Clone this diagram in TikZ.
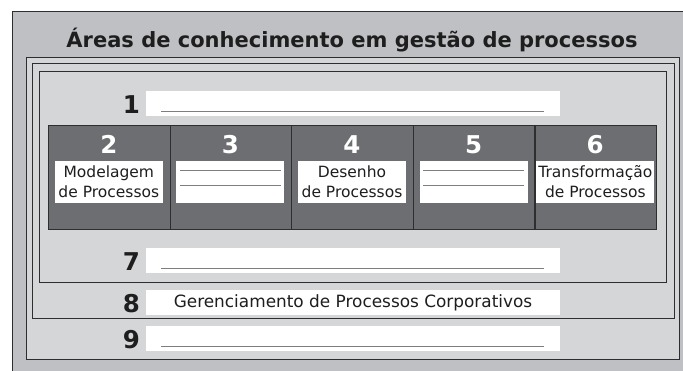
\documentclass[tikz,border=0pt]{standalone}
\usepackage{fontspec}
\setmainfont{DejaVu Sans}
\definecolor{outerbg}{HTML}{BFC0C3}
\definecolor{innerbg}{HTML}{D5D6D8}
\definecolor{panelgray}{HTML}{6D6E71}
\definecolor{frameline}{HTML}{2E2E2E}
\definecolor{uline}{HTML}{7E7E7E}
\definecolor{ink}{HTML}{1E1E1E}
\begin{document}
\begin{tikzpicture}[x=1pt,y=-1pt,
  frame/.style={draw=frameline,line width=1.4pt,inner sep=0pt,anchor=north west},
  rowbox/.style={fill=white,minimum width=414pt,minimum height=25pt,inner sep=0pt,anchor=north west},
  rownum/.style={font=\fontsize{24.5}{24.5}\selectfont\bfseries,text=ink,inner sep=0pt,anchor=base east},
  colbox/.style={draw=frameline,line width=1.2pt,fill=panelgray,minimum width=121.6pt,minimum height=104pt,inner sep=0pt,anchor=north west},
  colnum/.style={font=\fontsize{24.5}{24.5}\selectfont\bfseries,text=white,inner sep=0pt,anchor=base},
  labelbox/.style={fill=white,minimum width=108pt,minimum height=42pt,inner sep=0pt},
  labeltext/.style={font=\fontsize{15.5}{20}\selectfont,text=ink,align=center,inner sep=0pt},
  blank/.style={draw=uline,line width=1.5pt}
]
\useasboundingbox (0,0) rectangle (683,370);
\fill[white] (0,0) rectangle (683,370);

% frames
\node[frame,fill=outerbg,minimum width=680pt,minimum height=380pt] (outer) at (12,11) {};
\node[font=\fontsize{21}{21}\selectfont\bfseries,text=ink,anchor=base,inner sep=0pt] (title) at (352,47) {Áreas de conhecimento em gestão de processos};
\node[frame,fill=innerbg,minimum width=653pt,minimum height=302pt] (fA) at (26,57) {};
\node[frame,minimum width=642pt,minimum height=255pt] (fB) at (32,63) {};
\node[frame,minimum width=627pt,minimum height=211pt] (fC) at (39,71) {};

% row boxes
\node[rowbox] (r1) at (146,91) {};
\node[rownum] (n1) at (140,113) {1};
\draw[blank] ([xshift=15pt,yshift=5pt]r1.south west) -- ([xshift=-16pt,yshift=5pt]r1.south east);

\node[rowbox] (r7) at (146,248) {};
\node[rownum] (n7) at (140,270) {7};
\draw[blank] ([xshift=15pt,yshift=5pt]r7.south west) -- ([xshift=-16pt,yshift=5pt]r7.south east);

\node[rowbox] (r8) at (146,290) {};
\node[rownum] (n8) at (140,312) {8};
\node[font=\fontsize{16.9}{16.9}\selectfont,text=ink,inner sep=0pt] (t8) at (353,303) {Gerenciamento de Processos Corporativos};

\node[rowbox] (r9) at (146,326) {};
\node[rownum] (n9) at (140,348) {9};
\draw[blank] ([xshift=15pt,yshift=5pt]r9.south west) -- ([xshift=-16pt,yshift=5pt]r9.south east);

% columns
\node[colbox] (c2) at (48,125) {};
\node[colbox] (c3) at (169.6,125) {};
\node[colbox] (c4) at (291.2,125) {};
\node[colbox] (c5) at (412.8,125) {};
\node[colbox] (c6) at (534.4,125) {};

\node[colnum] (k2) at (108.8,153) {2};
\node[colnum] (k3) at (230.4,153) {3};
\node[colnum] (k4) at (352,153) {4};
\node[colnum] (k5) at (473.6,153) {5};
\node[colnum] (k6) at (595.2,153) {6};

\node[labelbox] (b2) at (108.8,181.5) {};
\node[labeltext] (l2) at (108.8,182) {Modelagem\\de Processos};
\node[labelbox] (b3) at (230.4,181.5) {};
\draw[blank] ([xshift=4pt,yshift=-4pt]b3.west) -- ([xshift=-4pt,yshift=-4pt]b3.east);
\draw[blank] ([xshift=4pt,yshift=11pt]b3.west) -- ([xshift=-4pt,yshift=11pt]b3.east);
\node[labelbox] (b4) at (352,181.5) {};
\node[labeltext] (l4) at (352,182) {Desenho\\de Processos};
\node[labelbox] (b5) at (473.6,181.5) {};
\draw[blank] ([xshift=4pt,yshift=-4pt]b5.west) -- ([xshift=-4pt,yshift=-4pt]b5.east);
\draw[blank] ([xshift=4pt,yshift=11pt]b5.west) -- ([xshift=-4pt,yshift=11pt]b5.east);
\node[labelbox,minimum width=118pt] (b6) at (595.4,181.5) {};
\node[labeltext] (l6) at (595.4,182) {Transformação\\de Processos};
\end{tikzpicture}
\end{document}
